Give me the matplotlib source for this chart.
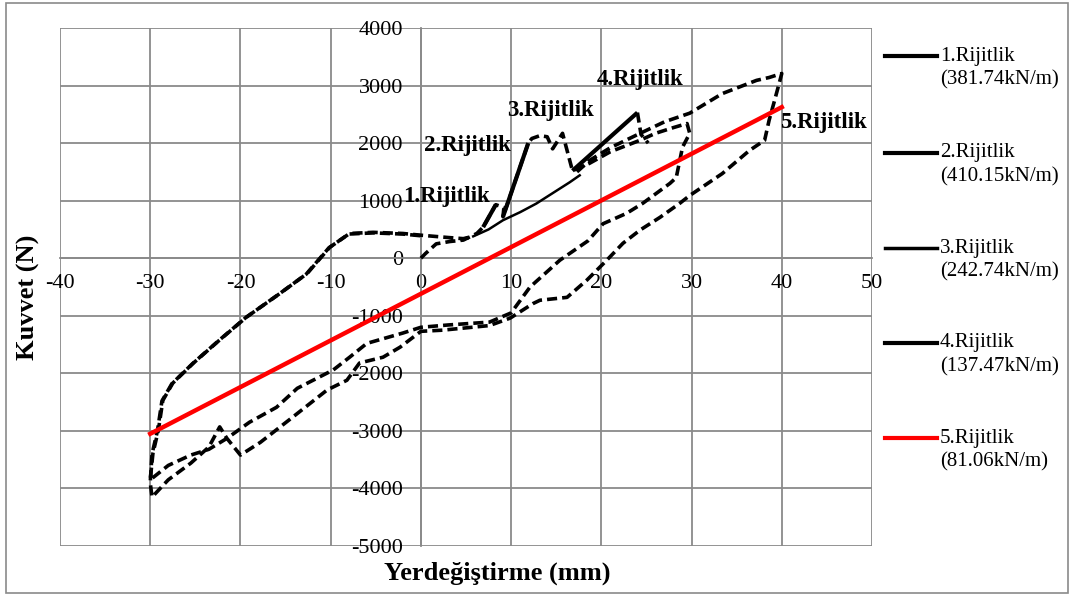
import matplotlib
matplotlib.use("Agg")
import matplotlib.pyplot as plt
from matplotlib.lines import Line2D
from matplotlib.patches import Rectangle

plt.rcParams['font.family'] = ['Liberation Serif', 'DejaVu Serif']
plt.rcParams['axes.unicode_minus'] = False

# hysteresis, first loop (initial loading -> +30 -> -30 -> back)
loop1_x = [0, 0.5, 1.7, 3.2, 4.7, 6.2, 6.9, 8.3, 9.2, 9.1, 11.9, 12.3, 13.2, 14.0, 14.6, 15.7, 16.8,
           18.7, 21.0, 24.3, 26.0, 28.0, 29.5, 29.8, 29.0, 28.3, 27.6, 24.6, 22.8, 20.2, 18.5, 15.4,
           12.1, 10.0, 7.6, 3.0, 0, -2.0, -6.0, -7.9, -9.7, -13.7, -16.0, -19.0, -21.5, -23.5, -25.5,
           -28.0, -30.0, -29.7, -29.1, -28.6, -27.5, -25.2, -22.3, -19.3, -15.6, -12.6, -10.1, -7.9,
           -5.3, -2.0, 0, 3.0, 4.7, 5.8]
loop1_y = [0, 80, 250, 290, 315, 430, 540, 930, 880, 720, 2000, 2080, 2130, 2110, 1900, 2170, 1520,
           1650, 1850, 2050, 2170, 2270, 2340, 2170, 1930, 1400, 1300, 955, 780, 600, 300, -35,
           -500, -950, -1110, -1160, -1200, -1300, -1480, -1720, -1940, -2260, -2590, -2850, -3130, -3320, -3420,
           -3600, -3850, -3390, -2990, -2470, -2170, -1820, -1420, -1020, -610, -265, 190, 430,
           450, 430, 400, 360, 340, 380]

# hysteresis, second loop (+40 -> -30 -> back)
loop2_x = [17.3, 18.7, 21.0, 24.3, 27.0, 29.8, 33.4, 37.2, 38.6, 40.0, 39.8, 39.2, 38.6, 38.1, 36.4,
           33.4, 29.8, 28.7, 26.5, 24.3, 22.4, 20.6, 18.4, 16.2, 13.2, 12.4, 9.9, 7.6, 2.4, 0, -2.3,
           -4.2, -6.8, -8.2, -10.4, -14.2, -17.8, -20.0, -21.5, -22.3, -23.5, -25.5, -28.0, -29.8, -30.0,
           -29.8, -29.2, -28.7, -27.6, -25.3, -22.4, -19.4, -15.7, -12.7, -10.2, -8.0, -5.3, -2.0, 0]
loop2_y = [1500, 1700, 1920, 2170, 2370, 2520, 2860, 3090, 3140, 3210, 3090, 2740, 2400, 2050, 1870,
           1470, 1090, 955, 710, 490, 260, -35, -380, -680, -730, -790, -1040, -1170, -1250, -1270, -1545,
           -1720, -1820, -2120, -2290, -2760, -3200, -3420, -3130, -2930, -3280, -3560, -3850, -4150, -3900,
           -3400, -3000, -2480, -2180, -1830, -1430, -1030, -620, -275, 180, 420, 440, 420, 390]

# stiffness lines
r1_x, r1_y = [6.9, 8.3], [540, 930]
r2_x, r2_y = [9.1, 11.9], [720, 2000]
r3_x = [5.8, 7.5, 9.1, 11.0, 12.8, 14.5, 16.5, 17.6]
r3_y = [380, 500, 660, 800, 950, 1120, 1320, 1440]
r4_x, r4_y = [16.8, 24.0], [1520, 2530]
drop4_x, drop4_y = [24.0, 24.4, 25.2], [2530, 2150, 2000]
r5_x, r5_y = [-30, 40], [-3050, 2625]

labels = ['1.Rijitlik', '2.Rijitlik', '3.Rijitlik', '4.Rijitlik', '5.Rijitlik']
values = ['(381.74kN/m)', '(410.15kN/m)', '(242.74kN/m)', '(137.47kN/m)', '(81.06kN/m)']
label_x = [-2.0, 0.4, 9.6, 19.5, 39.8]
label_y = [1076, 1960, 2570, 3110, 2360]

W, H = 1072, 594
fig = plt.figure(figsize=(W / 100, H / 100), dpi=100)
ax = fig.add_axes([60 / W, 48 / H, 812 / W, 518 / H])

dash = (0, (2.8, 1.4))
ax.plot(loop1_x, loop1_y, color='black', lw=2.6, linestyle=dash, zorder=3)
ax.plot(loop2_x, loop2_y, color='black', lw=2.6, linestyle=dash, zorder=3)
ax.plot(drop4_x, drop4_y, color='black', lw=2.6, linestyle=dash, zorder=3)

ax.plot(r1_x, r1_y, color='black', lw=3.0, zorder=4, solid_capstyle='butt')
ax.plot(r2_x, r2_y, color='black', lw=3.0, zorder=4, solid_capstyle='butt')
ax.plot(r3_x, r3_y, color='black', lw=1.8, zorder=4)
ax.plot(r4_x, r4_y, color='black', lw=3.0, zorder=4, solid_capstyle='butt')
ax.plot(r5_x, r5_y, color='#ff0000', lw=3.2, zorder=5)

for t, x, y in zip(labels, label_x, label_y):
    ax.text(x, y, t, fontsize=16.5, fontweight='bold', ha='left', va='center', zorder=6)

ax.set_xlim(-40, 50)
ax.set_ylim(-5000, 4000)
ax.set_xticks(range(-40, 51, 10))
ax.set_yticks(range(-5000, 4001, 1000))
ax.grid(True, color='#8a8a8a', lw=1.3, zorder=0)

for s in ['top', 'right']:
    ax.spines[s].set_visible(False)
ax.spines['left'].set_position(('data', 0))
ax.spines['bottom'].set_position(('data', 0))
ax.spines['left'].set_color('#8a8a8a')
ax.spines['bottom'].set_color('#8a8a8a')
ax.spines['left'].set_linewidth(1.3)
ax.spines['bottom'].set_linewidth(1.3)
ax.tick_params(axis='both', length=0, labelsize=16)
ax.tick_params(axis='y', pad=13)
ax.tick_params(axis='x', pad=11)

ax.set_xlabel('Yerdeğiştirme (mm)', fontsize=19, fontweight='bold')
ax.set_ylabel('Kuvvet (N)', fontsize=19, fontweight='bold')
ax.xaxis.set_label_coords(0.538, -0.052)
ax.xaxis.label.set_va('center')
ax.yaxis.set_label_coords(-0.039, 0.48)
ax.yaxis.label.set_va('center')

# legend drawn at the right of the plot area
leg_y = [56, 153, 248, 343, 438]
leg_col = ['black', 'black', 'black', 'black', '#ff0000']
leg_lw = [3.0, 3.0, 2.5, 3.0, 3.0]
for t, v, y, c, lw in zip(labels, values, leg_y, leg_col, leg_lw):
    fy = 1 - y / H
    fig.add_artist(Line2D([885 / W, 937 / W], [fy, fy], color=c, lw=lw))
    fig.text(940 / W, fy, t, fontsize=15, ha='left', va='center')
    fig.text(940 / W, fy - 24 / H, v, fontsize=15, ha='left', va='center')

fig.add_artist(Rectangle((6 / W, 1 / H), 1062 / W, 590 / H, transform=fig.transFigure,
                         fill=False, edgecolor='#8a8a8a', lw=1.2))

fig.savefig('out.png', dpi=100)
